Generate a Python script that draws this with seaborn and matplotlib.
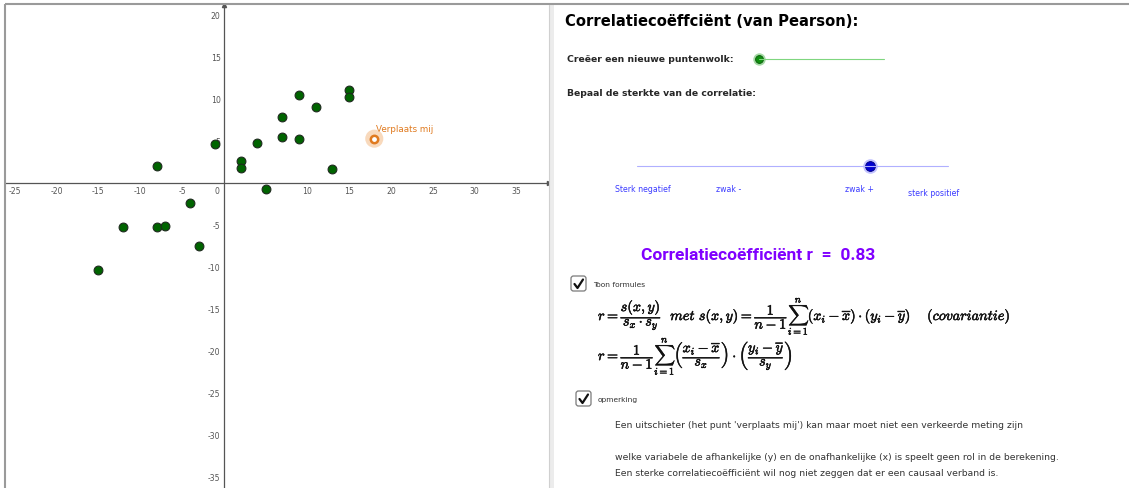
import numpy as np
import pandas as pd
import seaborn as sns
import matplotlib
matplotlib.use("Agg")
import matplotlib.pyplot as plt
from matplotlib.patches import FancyBboxPatch, Rectangle
from matplotlib.ticker import FuncFormatter
import matplotlib.patheffects as pe

# --- data ---
punten_x = [-15, -12, -8, -8, -7, -4, -3, -1, 2, 2, 4, 5, 7, 7, 9, 9, 11, 13, 15, 15]
punten_y = [-10.35, -5.3, -5.3, 1.95, -5.15, -2.45, -7.5, 4.6, 2.55, 1.75, 4.7, -0.75,
            7.85, 5.45, 10.45, 5.25, 9.05, 1.6, 11.05, 10.25]
uitschieter_x = [18]
uitschieter_y = [5.25]
uitschieter_label = "Verplaats mij"

x_ticks = [-25, -20, -15, -10, -5, 0, 5, 10, 15, 20, 25, 30, 35]
y_ticks = [-35, -30, -25, -20, -15, -10, -5, 0, 5, 10, 15, 20]

nieuwe_wolk_slider = 0.0       # range 0..1
sterkte_slider = 0.5           # range -1..1
sterkte_labels = ["Sterk negatief", "zwak -", "zwak +", "sterk positief"]
r_waarde = 0.83

titel = "Correlatiecoëffciënt (van Pearson):"
tekst_regels = [
    "Een uitschieter (het punt 'verplaats mij') kan maar moet niet een verkeerde meting zijn",
    "welke variabele de afhankelijke (y) en de onafhankelijke (x) is speelt geen rol in de berekening.",
    "Een sterke correlatiecoëfficiënt wil nog niet zeggen dat er een causaal verband is.",
]

W, H = 1129, 489

sns.set_style("white")
plt.rcParams["font.family"] = ["DejaVu Sans"]
plt.rcParams["mathtext.fontset"] = "cm"

fig = plt.figure(figsize=(W / 100, H / 100), dpi=100)

# --- graphics view (left) ---
ax = fig.add_axes([6 / W, 0, (549 - 6) / W, (H - 6) / H])
df = pd.DataFrame({"x": punten_x, "y": punten_y})
sns.scatterplot(data=df, x="x", y="y", ax=ax, color="#006400", edgecolor="#1e2a1e",
                linewidth=0.8, s=40, zorder=5, legend=False)
df_u = pd.DataFrame({"x": uitschieter_x, "y": uitschieter_y})
sns.scatterplot(data=df_u, x="x", y="y", ax=ax, color="#f6c9a0", edgecolor="none",
                s=170, alpha=0.7, zorder=5, legend=False)
sns.scatterplot(data=df_u, x="x", y="y", ax=ax, color="white", edgecolor="#e07a1f",
                linewidth=1.8, s=28, zorder=6, legend=False)
ax.annotate(uitschieter_label, xy=(uitschieter_x[0], uitschieter_y[0]), xytext=(1.5, 4),
            textcoords="offset points", fontsize=6.3, color="#e07a1f", ha="left", va="bottom")

ax.set_xlim((6 - 223.8) / 8.36, (549 - 223.8) / 8.36)
ax.set_ylim((183.8 - 489) / 8.405, (183.8 - 6) / 8.405)
ax.set_xlabel("")
ax.set_ylabel("")
for s in ["top", "right"]:
    ax.spines[s].set_visible(False)
for s in ["left", "bottom"]:
    ax.spines[s].set_position(("data", 0))
    ax.spines[s].set_color("#555555")
    ax.spines[s].set_linewidth(0.9)
ax.set_xticks(x_ticks)
ax.set_yticks(y_ticks)
fmt = FuncFormatter(lambda v, p: "" if v == 0 else f"{v:g}".replace("\u2212", "-"))
ax.xaxis.set_major_formatter(fmt)
ax.yaxis.set_major_formatter(fmt)
ax.tick_params(direction="inout", length=3, width=0.8, color="#555555",
               labelsize=5.6, labelcolor="#555555", pad=0.8)
ax.annotate("0", xy=(0, 0), xytext=(-3, -2.5), textcoords="offset points",
            fontsize=5.6, color="#555555", ha="right", va="top")
ax.plot(1, 0, ">", transform=ax.get_yaxis_transform(), clip_on=False,
        color="#555555", markersize=3)
ax.plot(0, 1, "^", transform=ax.get_xaxis_transform(), clip_on=False,
        color="#555555", markersize=3)

# --- overlay in pixel coordinates (right panel, frame) ---
ov = fig.add_axes([0, 0, 1, 1], zorder=10)
ov.set_xlim(0, W)
ov.set_ylim(H, 0)
ov.axis("off")
ov.patch.set_alpha(0)

ov.plot([5, W], [5, 5], color="#9a9a9a", lw=1.5, solid_capstyle="butt")
ov.plot([5, 5], [5, H], color="#9a9a9a", lw=1.5, solid_capstyle="butt")
ov.add_patch(Rectangle((548.5, 5.8), 5, H, color="#ececec", lw=0))
ov.plot([548.5, 548.5], [5.8, H], color="#d0d0d0", lw=0.8)

ov.text(565, 21, titel, fontsize=10.6, fontweight="bold", color="black", va="center")
ov.text(567, 60, "Creëer een nieuwe puntenwolk:", fontsize=6.7, fontweight="bold", va="center")
ov.text(567, 93, "Bepaal de sterkte van de correlatie:", fontsize=6.7, fontweight="bold", va="center")

# green slider
g0, g1 = 759, 884
gx = g0 + nieuwe_wolk_slider * (g1 - g0)
ov.plot([g0, g1], [60, 60], color="#7fd67f", lw=0.8)
ov.scatter([gx], [60], s=80, color="#8fd18f", alpha=0.8, lw=0)
ov.scatter([gx], [60], s=32, color="#0f8f0f", edgecolor="#0a5a0a", lw=0.6)

# blue slider
b0, b1 = 637, 948
bx = b0 + (sterkte_slider + 1) / 2 * (b1 - b0)
ov.plot([b0, b1], [167, 167], color="#b0b0ff", lw=0.8)
ov.scatter([bx], [167], s=110, color="#9a9aff", alpha=0.6, lw=0)
ov.scatter([bx], [167], s=50, color="#0000d0", edgecolor="#00007a", lw=0.6)
for lab, lx, ly in zip(sterkte_labels, [615, 716, 845, 908], [189, 189, 190, 193]):
    ov.text(lx, ly, lab, fontsize=5.6, color="#3a3aff", va="center")

ov.text(758, 255, f"Correlatiecoëfficiënt r  =  {r_waarde:.2f}", fontsize=12.5,
        fontweight="bold", family=["Roboto", "DejaVu Sans"], color="#8000ff",
        ha="center", va="center")


def checkbox(x, y, label):
    ov.add_patch(FancyBboxPatch((x, y), 15, 15, boxstyle="round,pad=0,rounding_size=2.5",
                                fc="white", ec="#7a7a7a", lw=0.9))
    ov.plot([x + 3.5, x + 6.5, x + 12], [y + 8, y + 12, y + 3.5], color="#111111",
            lw=1.6, solid_capstyle="round", solid_joinstyle="round")
    ov.text(x + 22, y + 8, label, fontsize=5.4, color="#333333", va="center")


checkbox(571, 277, "Toon formules")
checkbox(576, 392, "opmerking")

formule1 = (r"$r=\dfrac{s(x,y)}{s_x\cdot s_y}\ \ met\ s(x,y)=\dfrac{1}{n-1}\sum_{i=1}^{n}"
            r"(x_i-\overline{x})\cdot(y_i-\overline{y})\quad\ (covariantie)$")
formule2 = (r"$r=\dfrac{1}{n-1}\sum_{i=1}^{n}\left(\dfrac{x_i-\overline{x}}{s_x}\right)"
            r"\cdot\left(\dfrac{y_i-\overline{y}}{s_y}\right)$")
bold = [pe.withStroke(linewidth=0.35, foreground="#111111")]
ov.text(598, 318, formule1, fontsize=10.3, color="#111111", va="center", path_effects=bold)
ov.text(598, 358, formule2, fontsize=10.3, color="#111111", va="center", path_effects=bold)

for regel, ry in zip(tekst_regels, [425, 458, 474]):
    ov.text(615, ry, regel, fontsize=6.7, color="#333333", va="center")

fig.savefig("out.png", dpi=100)
